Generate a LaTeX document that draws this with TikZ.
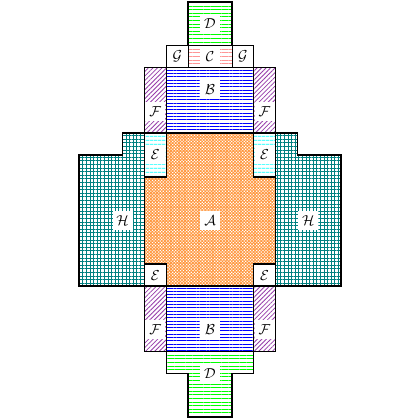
\documentclass[tikz,border=0pt]{standalone}
\usetikzlibrary{patterns.meta}
\definecolor{fviolet}{RGB}{150,60,170}
\definecolor{hteal}{RGB}{0,128,128}
\definecolor{cpink}{RGB}{255,150,150}
\definecolor{aorange}{RGB}{255,150,60}
\tikzset{
  lab/.style={fill=white, inner sep=0pt, minimum width=20pt, minimum height=19pt, font=\Large},
  thinb/.style={draw=black, line width=0.7pt},
  thickb/.style={draw=black, line width=1.5pt, line join=miter},
  dpat/.style={pattern={Lines[angle=0,distance=3.6pt,line width=0.9pt]}, pattern color=green},
  cpat/.style={pattern={Lines[angle=0,distance=3.6pt,line width=0.7pt]}, pattern color=cpink},
  bpat/.style={pattern={Lines[angle=0,distance=3.3pt,line width=0.9pt]}, pattern color=blue},
  epat/.style={pattern={Lines[angle=0,distance=4pt,line width=0.9pt]}, pattern color=cyan},
  fpat/.style={pattern={Lines[angle=45,distance=3.2pt,line width=0.8pt]}, pattern color=fviolet},
  hpat/.style={pattern={Hatch[angle=0,distance=3.6pt,line width=0.7pt]}, pattern color=hteal},
  apat/.style={pattern={Dots[angle=45,distance=2.2pt,radius=0.85pt]}, pattern color=white},
}
\begin{document}
\begin{tikzpicture}[x=21.85pt,y=-21.85pt]
\useasboundingbox (-9.611,-0.0915) rectangle (9.611,19.130);
% fills
\fill[dpat] (-1,0) rectangle (1,2);
\fill[cpat] (-1,2) rectangle (1,3);
\fill[bpat] (-2,3) rectangle (2,6);
\fill[fpat] (-3,3) rectangle (-2,6);
\fill[fpat] (2,3) rectangle (3,6);
\fill[epat] (-3,6) rectangle (-2,8);
\fill[epat] (2,6) rectangle (3,8);
\fill[aorange] (-2,6) -- (2,6) -- (2,8) -- (3,8) -- (3,12) -- (2,12) -- (2,13) -- (-2,13) -- (-2,12) -- (-3,12) -- (-3,8) -- (-2,8) -- cycle;
\fill[apat] (-2,6) -- (2,6) -- (2,8) -- (3,8) -- (3,12) -- (2,12) -- (2,13) -- (-2,13) -- (-2,12) -- (-3,12) -- (-3,8) -- (-2,8) -- cycle;
\fill[hpat] (-6,7) -- (-4,7) -- (-4,6) -- (-3,6) -- (-3,13) -- (-6,13) -- cycle;
\fill[hpat] (6,7) -- (4,7) -- (4,6) -- (3,6) -- (3,13) -- (6,13) -- cycle;
\fill[fpat] (-3,13) rectangle (-2,16);
\fill[fpat] (2,13) rectangle (3,16);
\fill[bpat] (-2,13) rectangle (2,16);
\fill[dpat] (-2,16) -- (2,16) -- (2,17) -- (1,17) -- (1,19) -- (-1,19) -- (-1,17) -- (-2,17) -- cycle;
% thin borders
\draw[thinb] (-1,0) rectangle (1,2);
\draw[thinb] (-2,2) rectangle (-1,3);
\draw[thinb] (-1,2) rectangle (1,3);
\draw[thinb] (1,2) rectangle (2,3);
\draw[thinb] (-3,3) rectangle (-2,6);
\draw[thinb] (-2,3) rectangle (2,6);
\draw[thinb] (2,3) rectangle (3,6);
\draw[thinb] (-3,6) -- (-3,13);
\draw[thinb] (3,6) -- (3,13);
\draw[thinb] (-3,13) rectangle (-2,16);
\draw[thinb] (-2,13) rectangle (2,16);
\draw[thinb] (2,13) rectangle (3,16);
% thick lines
\draw[thickb] (-1,0) -- (1,0) -- (1,2) -- (2,2) -- (2,3) -- (3,3) -- (3,6) -- (4,6) -- (4,7) -- (6,7) -- (6,13) -- (3,13) -- (3,16) -- (2,16) -- (2,17) -- (1,17) -- (1,19) -- (-1,19) -- (-1,17) -- (-2,17) -- (-2,16) -- (-3,16) -- (-3,13) -- (-6,13) -- (-6,7) -- (-4,7) -- (-4,6) -- (-3,6) -- (-3,3) -- (-2,3) -- (-2,2) -- (-1,2) -- cycle;
\draw[thickb] (-2,2) -- (2,2);
\draw[thickb] (-3,3) -- (3,3);
\draw[thickb] (-3,6) -- (3,6);
\draw[thickb] (-3,13) -- (3,13);
\draw[thickb] (-3,16) -- (3,16);
\draw[thickb] (-3,6) rectangle (-2,8);
\draw[thickb] (2,6) rectangle (3,8);
\draw[thickb] (-3,12) rectangle (-2,13);
\draw[thickb] (2,12) rectangle (3,13);
% labels
\node[lab] (dtop) at (0,1) {$\mathcal{D}$};
\node[lab] (c) at (0,2.5) {$\mathcal{C}$};
\node[lab] (gl) at (-1.5,2.5) {$\mathcal{G}$};
\node[lab] (gr) at (1.5,2.5) {$\mathcal{G}$};
\node[lab] (btop) at (0,4) {$\mathcal{B}$};
\node[lab] (ftl) at (-2.5,5) {$\mathcal{F}$};
\node[lab] (ftr) at (2.5,5) {$\mathcal{F}$};
\node[lab] (etl) at (-2.5,7) {$\mathcal{E}$};
\node[lab] (etr) at (2.5,7) {$\mathcal{E}$};
\node[lab] (a) at (0,10) {$\mathcal{A}$};
\node[lab] (hl) at (-4,10) {$\mathcal{H}$};
\node[lab] (hr) at (4.5,10) {$\mathcal{H}$};
\node[lab] (ebl) at (-2.5,12.5) {$\mathcal{E}$};
\node[lab] (ebr) at (2.5,12.5) {$\mathcal{E}$};
\node[lab] (fbl) at (-2.5,15) {$\mathcal{F}$};
\node[lab] (fbr) at (2.5,15) {$\mathcal{F}$};
\node[lab] (bbot) at (0,15) {$\mathcal{B}$};
\node[lab] (dbot) at (0,17) {$\mathcal{D}$};
\end{tikzpicture}
\end{document}
